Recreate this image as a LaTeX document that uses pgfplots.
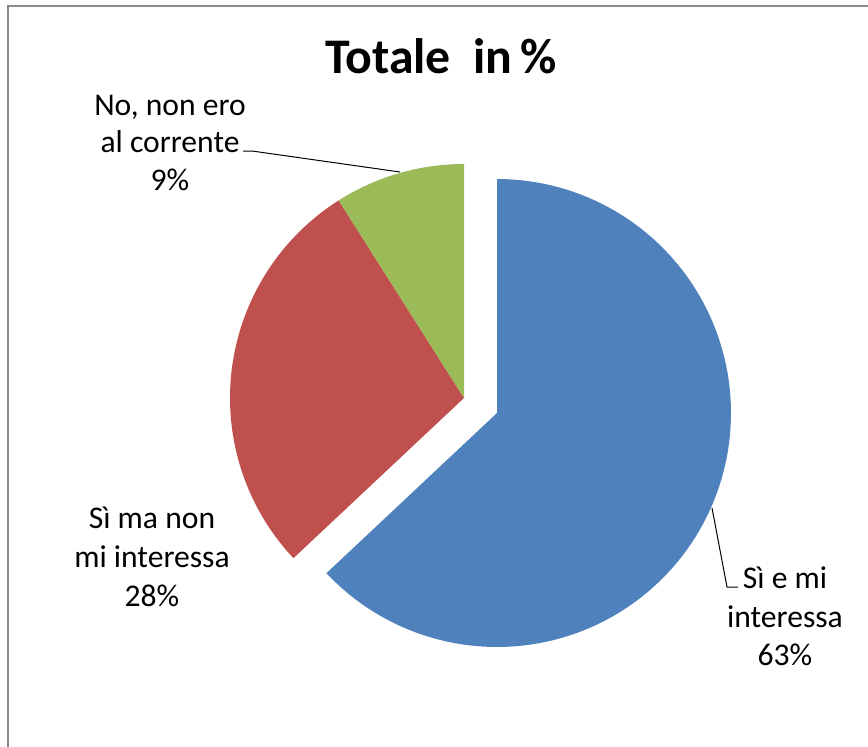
\documentclass[border=0pt]{standalone}
\usepackage{pgfplots}
\pgfplotsset{compat=1.18}
\usepackage{pgfplotstable}
\usepackage{fontspec}
\setmainfont{Carlito}
\definecolor{pblue}{HTML}{4F81BD}
\definecolor{pred}{HTML}{C0504D}
\definecolor{pgreen}{HTML}{9BBB59}
\definecolor{frame}{HTML}{8A8A8A}
\pgfplotstableread{
label value
Si_e_mi_interessa 63
Si_ma_non_mi_interessa 28
No_non_ero_al_corrente 9
}\piedata
\begin{document}
\begin{tikzpicture}
\pgfplotstablegetelem{0}{value}\of\piedata \let\va\pgfplotsretval
\pgfplotstablegetelem{1}{value}\of\piedata \let\vb\pgfplotsretval
\pgfplotstablegetelem{2}{value}\of\piedata \let\vc\pgfplotsretval
\pgfmathsetmacro{\aA}{90}
\pgfmathsetmacro{\aB}{\aA-3.6*\va}
\pgfmathsetmacro{\aC}{\aB-3.6*\vb}
\pgfmathsetmacro{\aD}{\aC-3.6*\vc}
\def\R{234}
\def\cx{464}\def\cy{348}
\def\bx{497}\def\by{333}
\begin{axis}[
  x=0.5pt, y=0.5pt,
  xmin=0, xmax=868, ymin=0, ymax=746,
  hide axis, clip=false,
  scale only axis,
]
% frame
\draw[frame, line width=1.3pt] (axis cs:8,-10) -- (axis cs:8,740) -- (axis cs:880,740);
% slices
\addplot[pblue, fill=pblue, draw=none, domain=\aB:\aA, samples=120, variable=\t]
  ({\bx+\R*cos(\t)}, {\by+\R*sin(\t)}) -- (axis cs:\bx,\by) -- cycle;
\addplot[pred, fill=pred, draw=none, domain=\aC:\aB, samples=80, variable=\t]
  ({\cx+\R*cos(\t)}, {\cy+\R*sin(\t)}) -- (axis cs:\cx,\cy) -- cycle;
\addplot[pgreen, fill=pgreen, draw=none, domain=\aD:\aC, samples=40, variable=\t]
  ({\cx+\R*cos(\t)}, {\cy+\R*sin(\t)}) -- (axis cs:\cx,\cy) -- cycle;
% leader lines
\draw[black, line width=0.5pt] (axis cs:243,595) -- (axis cs:252,595) -- (axis cs:400,574);
\draw[black, line width=0.5pt] (axis cs:712,238) -- (axis cs:727,159) -- (axis cs:738,159);
% title
\node[anchor=base, font=\fontsize{24.9}{30}\selectfont\bfseries] at (axis cs:441,673) {Totale\ \ in\,\%};
% labels
\begin{scope}[every node/.style={anchor=base, inner sep=0pt, font=\fontsize{15.8}{19}\selectfont}]
\node at (axis cs:170,631) {No, non ero};
\node at (axis cs:170,594) {al corrente};
\node at (axis cs:170,556) {9\%};
\node at (axis cs:152,218) {Sì ma non};
\node at (axis cs:152,179) {mi interessa};
\node at (axis cs:152,140) {28\%};
\node at (axis cs:785,158) {Sì e mi};
\node at (axis cs:785,119) {interessa};
\node at (axis cs:785,81) {63\%};
\end{scope}
\end{axis}
\pgfresetboundingbox
\path[use as bounding box] (current axis.south west) rectangle (current axis.north east);
\end{tikzpicture}
\end{document}
